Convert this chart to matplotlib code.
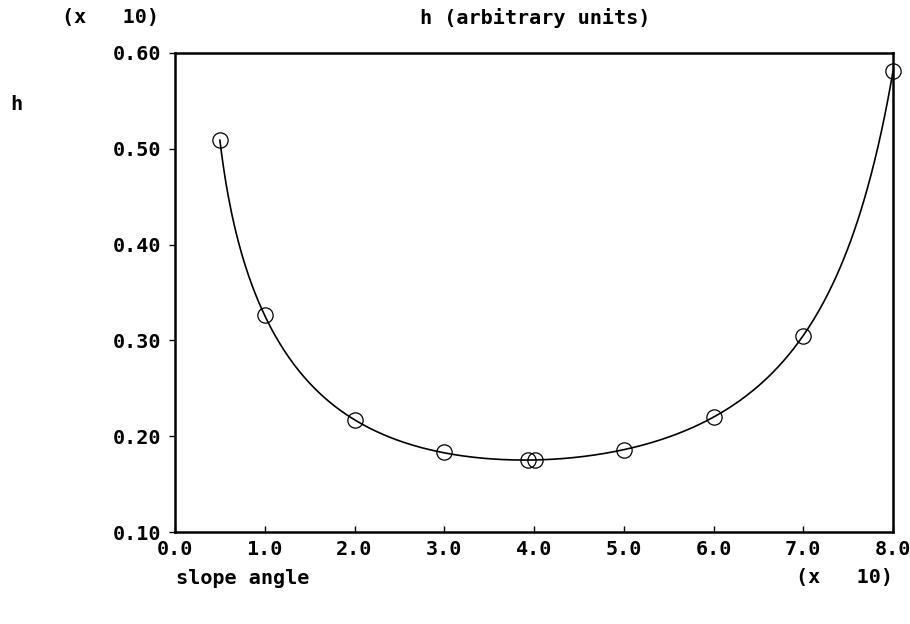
import matplotlib
matplotlib.use('Agg')
import matplotlib.pyplot as plt
import numpy as np

plt.rcParams['font.family'] = ['DejaVu Sans Mono']
plt.rcParams['font.weight'] = 'bold'

# slope angle (x 10 degrees) and measured h
angle = np.array([0.5, 1.0, 2.0, 3.0, 3.93, 4.01, 5.0, 6.0, 7.0, 8.0])
h = np.array([0.509, 0.326, 0.217, 0.183, 0.175, 0.175, 0.186, 0.220, 0.305, 0.581])

xticks = [0.0, 1.0, 2.0, 3.0, 4.0, 5.0, 6.0, 7.0, 8.0]
yticks = [0.10, 0.20, 0.30, 0.40, 0.50, 0.60]

# smooth fit: log(h) as a polynomial in log(tan(angle))
def tlog(a):
    return np.log(np.tan(np.radians(a * 10)))

coef = np.polyfit(tlog(angle), np.log(h), 6)
xs = np.linspace(angle.min(), angle.max(), 400)
hs = np.exp(np.polyval(coef, tlog(xs)))

fig = plt.figure(figsize=(9.1, 6.24), dpi=100)
ax = fig.add_axes([175 / 910, 1 - 532 / 624, 718 / 910, 479 / 624])
ax.plot(xs, hs, color='black', lw=1.2, clip_on=False)
ax.plot(angle, h, 'o', mfc='none', mec='black', ms=11, mew=0.9, clip_on=False)

ax.set_xlim(0, 8)
ax.set_ylim(0.1, 0.6)
ax.set_xticks(xticks)
ax.set_xticklabels(['%.1f' % v for v in xticks])
ax.set_yticks(yticks)
ax.set_yticklabels(['%.2f' % v for v in yticks])
ax.tick_params(axis='x', direction='in', length=4, width=1, labelsize=14.5, pad=6)
ax.tick_params(axis='y', direction='out', length=4, width=1, labelsize=14.5, pad=6)
for s in ax.spines.values():
    s.set_linewidth(1.8)

fs = 14.5
fig.text(535 / 910, 1 - 18 / 624, 'h (arbitrary units)', ha='center', va='center', fontsize=fs)
fig.text(111 / 910, 1 - 18 / 624, '(x   10)', ha='center', va='center', fontsize=fs)
fig.text(16 / 910, 1 - 105 / 624, 'h', ha='center', va='center', fontsize=fs)
fig.text(176 / 910, 1 - 578 / 624, 'slope angle', ha='left', va='center', fontsize=fs)
fig.text(893 / 910, 1 - 578 / 624, '(x   10)', ha='right', va='center', fontsize=fs)

fig.savefig('out.png', dpi=100)
